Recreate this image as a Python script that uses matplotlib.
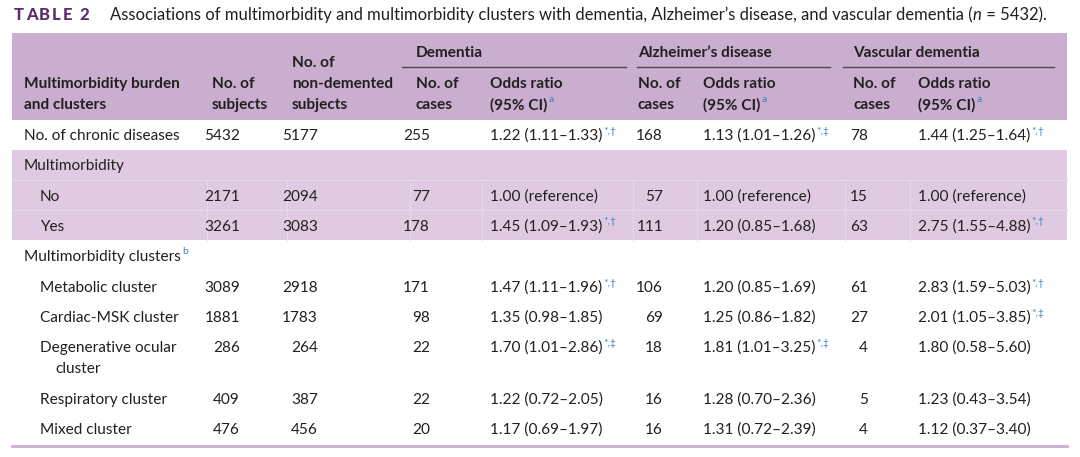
import matplotlib.pyplot as plt
from matplotlib.patches import Rectangle

plt.rcParams['font.family'] = ['Lato', 'DejaVu Sans']

# ---- table content ----
labels = ["No. of chronic diseases", "Multimorbidity", "No", "Yes",
          "Multimorbidity clusters", "Metabolic cluster", "Cardiac-MSK cluster",
          "Degenerative ocular", "Respiratory cluster", "Mixed cluster"]
label_sup = ["", "", "", "", "b", "", "", "", "", ""]
level = [0, 0, 1, 1, 0, 1, 1, 1, 1, 1]
subjects = ["5432", "", "2171", "3261", "", "3089", "1881", "286", "409", "476"]
nondemented = ["5177", "", "2094", "3083", "", "2918", "1783", "264", "387", "456"]
dem_cases = ["255", "", "77", "178", "", "171", "98", "22", "22", "20"]
dem_or = ["1.22 (1.11–1.33)", "", "1.00 (reference)", "1.45 (1.09–1.93)", "",
          "1.47 (1.11–1.96)", "1.35 (0.98–1.85)", "1.70 (1.01–2.86)",
          "1.22 (0.72–2.05)", "1.17 (0.69–1.97)"]
dem_sig = ["*,†", "", "", "*,†", "", "*,†", "", "*,‡", "", ""]
ad_cases = ["168", "", "57", "111", "", "106", "69", "18", "16", "16"]
ad_or = ["1.13 (1.01–1.26)", "", "1.00 (reference)", "1.20 (0.85–1.68)", "",
         "1.20 (0.85–1.69)", "1.25 (0.86–1.82)", "1.81 (1.01–3.25)",
         "1.28 (0.70–2.36)", "1.31 (0.72–2.39)"]
ad_sig = ["*,‡", "", "", "", "", "", "", "*,‡", "", ""]
vd_cases = ["78", "", "15", "63", "", "61", "27", "4", "5", "4"]
vd_or = ["1.44 (1.25–1.64)", "", "1.00 (reference)", "2.75 (1.55–4.88)", "",
         "2.83 (1.59–5.03)", "2.01 (1.05–3.85)", "1.80 (0.58–5.60)",
         "1.23 (0.43–3.54)", "1.12 (0.37–3.40)"]
vd_sig = ["*,†", "", "", "*,†", "", "*,†", "*,‡", "", "", ""]
groups = ["Dementia", "Alzheimer’s disease", "Vascular dementia"]

# ---- look ----
TXT = "#231f20"
HEAD = "#c9aecf"
BAND = "#dfcae2"
TITLE = "#5c2d6e"
SUP = "#3b82c4"
FS = 11.1
HW = 'bold'

W, H = 1080, 457
fig = plt.figure(figsize=(W / 100, H / 100), dpi=100)
ax = fig.add_axes([0, 0, 1, 1])
ax.set_xlim(0, W)
ax.set_ylim(H, 0)
ax.axis('off')
fig.canvas.draw()
rend = fig.canvas.get_renderer()


def put(x, y, s, ha='left', **kw):
    kw.setdefault('fontsize', FS)
    kw.setdefault('color', TXT)
    t = ax.text(x, y, s, ha=ha, va='center', **kw)
    bb = t.get_window_extent(renderer=rend)
    return ax.transData.inverted().transform((bb.x1, bb.y0))[0]


def sup(x, y, s):
    if s:
        put(x + 1, y - 5, s, fontsize=7.5, color=SUP)


# title
x = 14
for ch in "TABLE 2":
    x = put(x, 15, ch, fontsize=12, fontweight='black', color=TITLE) + 1.8
x = put(110, 15, "Associations of multimorbidity and multimorbidity clusters with dementia, "
        "Alzheimer’s disease, and vascular dementia (", fontsize=12)
x = put(x, 15, "n", fontsize=12, style='italic')
put(x + 1, 15, " = 5432).", fontsize=12)

# header band
ax.add_patch(Rectangle((12, 33), 1055, 87, color=HEAD, lw=0))
# light band for multimorbidity block
ax.add_patch(Rectangle((12, 150), 1055, 90, color=BAND, lw=0))
for xv in [207, 287, 410, 482, 633, 697, 845, 910]:
    ax.plot([xv, xv], [180, 240], color="#e8d8ea", lw=0.8)
for yv in [180, 210]:
    ax.plot([12, 1067], [yv, yv], color="#e8d8ea", lw=0.8)

# header text
put(24, 84, "Multimorbidity burden", fontweight=HW)
put(24, 105, "and clusters", fontweight=HW)
put(212, 84, "No. of", fontweight=HW)
put(212, 105, "subjects", fontweight=HW)
put(292, 63, "No. of", fontweight=HW)
put(292, 84, "non-demented", fontweight=HW)
put(292, 105, "subjects", fontweight=HW)

grp_x = [(416, 490), (638, 703), (853, 918)]
grp_line = [(402, 626), (637, 830), (843, 1054)]
for name, (xc, xo), (l0, l1) in zip(groups, grp_x, grp_line):
    put(xc, 53, name, fontweight=HW)
    ax.plot([l0, l1], [67, 67], color="#4a4a4a", lw=1.0)
    put(xc, 84, "No. of", fontweight=HW)
    put(xc, 105, "cases", fontweight=HW)
    put(xo, 84, "Odds ratio", fontweight=HW)
    e = put(xo, 105, "(95% CI)", fontweight=HW)
    sup(e, 105, "a")

# body rows
row_y = [136, 166, 197, 227, 257, 288, 318, 348, 400, 430]
indent = [24, 40]
for i, lab in enumerate(labels):
    y = row_y[i]
    e = put(indent[level[i]], y, lab)
    sup(e, y, label_sup[i])
    if lab == "Degenerative ocular":
        put(55, y + 21, "cluster")
    put(240, y, subjects[i], ha='right')
    put(318, y, nondemented[i], ha='right')
    put(430, y, dem_cases[i], ha='right')
    sup(put(490, y, dem_or[i]), y, dem_sig[i])
    put(663, y, ad_cases[i], ha='right')
    sup(put(703, y, ad_or[i]), y, ad_sig[i])
    put(868, y, vd_cases[i], ha='right')
    sup(put(918, y, vd_or[i]), y, vd_sig[i])

ax.plot([12, 1067], [446, 446], color=HEAD, lw=2)

fig.savefig("out.png", dpi=100)
